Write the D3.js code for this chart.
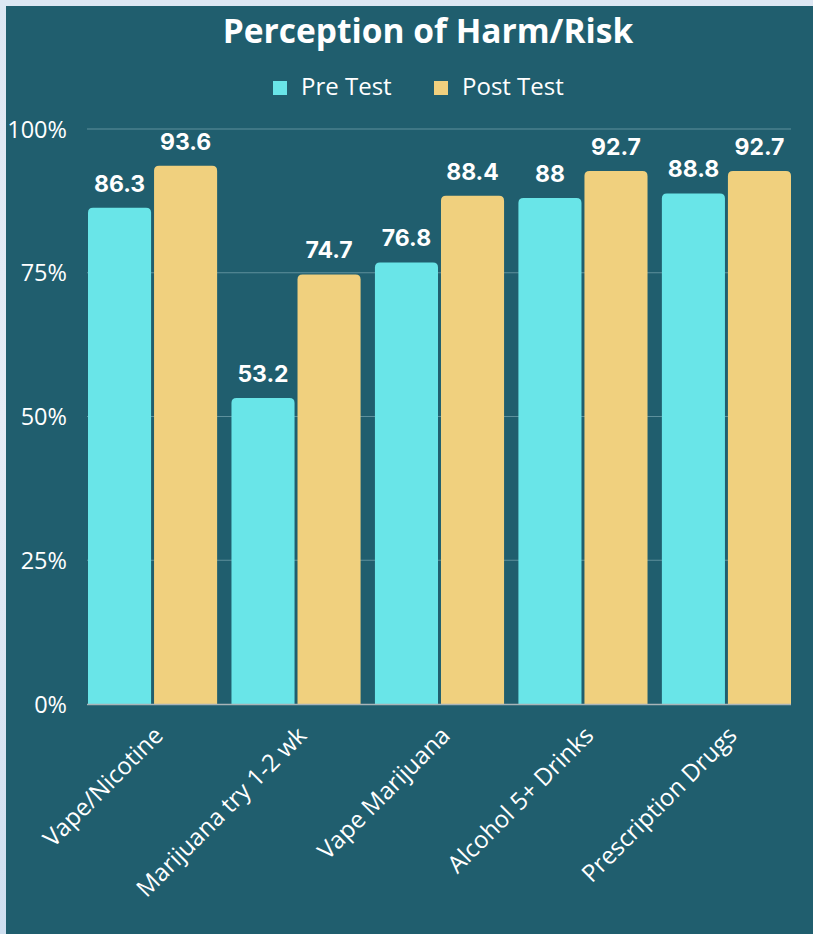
<!DOCTYPE html>
<html>
<head>
<meta charset="utf-8">
<script src="https://cdn.jsdelivr.net/npm/d3@7"></script>
<style>
  html, body { margin: 0; padding: 0; width: 813px; height: 934px; overflow: hidden; }
  svg { display: block; }
</style>
</head>
<body>
<svg id="chart" width="813" height="934"></svg>
<script>
const categories = ["Vape/Nicotine", "Marijuana try 1-2 wk", "Vape Marijuana", "Alcohol 5+ Drinks", "Prescription Drugs"];
const seriesNames = ["Pre Test", "Post Test"];
const preTest = [86.3, 53.2, 76.8, 88, 88.8];
const postTest = [93.6, 74.7, 88.4, 92.7, 92.7];
const yTicks = [0, 25, 50, 75, 100];
const titleText = "Perception of Harm/Risk";

const colors = { "Pre Test": "#69e5e8", "Post Test": "#f0d07e" };
const W = 813, H = 934;
const svg = d3.select("#chart");

// page background gradient
const defs = svg.append("defs");
const grad = defs.append("linearGradient").attr("id", "bg").attr("x1", 0).attr("y1", 0).attr("x2", 0).attr("y2", 1);
grad.append("stop").attr("offset", "0%").attr("stop-color", "#dde7f3");
grad.append("stop").attr("offset", "45%").attr("stop-color", "#e6edf6");
grad.append("stop").attr("offset", "100%").attr("stop-color", "#cfdff0");
svg.append("rect").attr("width", W).attr("height", H).attr("fill", "url(#bg)");
svg.append("rect").attr("x", 6).attr("y", 6).attr("width", W - 6).attr("height", H - 6).attr("fill", "#205e6e");

const margin = { left: 88, right: 22 };
const x0 = d3.scaleBand().domain(categories).range([margin.left, W - margin.right]).paddingInner(0.1).paddingOuter(0);
const x1 = d3.scaleBand().domain(seriesNames).range([0, x0.bandwidth()]).paddingInner(0.045);
const y = d3.scaleLinear().domain([0, 100]).range([704, 129]);

// gridlines
svg.append("g").selectAll("line").data(yTicks.filter(d => d > 0)).join("line")
  .attr("x1", 87).attr("x2", W - margin.right)
  .attr("y1", d => y(d)).attr("y2", d => y(d))
  .attr("stroke", "#5e909c").attr("stroke-width", 1);

// y axis labels
const yAxis = d3.axisLeft(y).tickValues(yTicks).tickFormat(d => d + "%").tickSize(0).tickPadding(0);
const yg = svg.append("g").attr("transform", "translate(67,0)").call(yAxis);
yg.select(".domain").remove();
yg.selectAll("text").attr("fill", "#ffffff").attr("font-family", "'Open Sans', sans-serif").attr("font-size", 23.5).attr("dy", "0.35em");

// bars
const data = categories.map((c, i) => ({ cat: c, values: [
  { key: "Pre Test", value: preTest[i] },
  { key: "Post Test", value: postTest[i] }
]}));

function topRoundedRect(x, yTop, w, h, r) {
  r = Math.min(r, h, w / 2);
  return `M${x},${yTop + h}V${yTop + r}Q${x},${yTop} ${x + r},${yTop}H${x + w - r}Q${x + w},${yTop} ${x + w},${yTop + r}V${yTop + h}Z`;
}

const groups = svg.append("g").selectAll("g").data(data).join("g")
  .attr("transform", d => `translate(${x0(d.cat)},0)`);

groups.selectAll("path").data(d => d.values).join("path")
  .attr("d", d => topRoundedRect(x1(d.key), y(d.value), x1.bandwidth(), y(0) - y(d.value), 5))
  .attr("fill", d => colors[d.key]);

groups.selectAll("text").data(d => d.values).join("text")
  .attr("x", d => x1(d.key) + x1.bandwidth() / 2)
  .attr("y", d => y(d.value) - 16)
  .attr("text-anchor", "middle")
  .attr("fill", "#ffffff")
  .attr("font-family", "Inter, sans-serif")
  .attr("font-weight", 700)
  .attr("font-size", 23)
  .text(d => d.value);

// baseline
svg.append("line").attr("x1", 87).attr("x2", W - margin.right).attr("y1", 704.5).attr("y2", 704.5)
  .attr("stroke", "#a9b4b8").attr("stroke-width", 1.5);

// x axis labels
const xAxis = d3.axisBottom(x0).tickSize(0).tickPadding(0);
const xg = svg.append("g").attr("transform", "translate(0,704)").call(xAxis);
xg.select(".domain").remove();
xg.selectAll("text")
  .attr("fill", "#ffffff")
  .attr("font-family", "'Open Sans', sans-serif")
  .attr("font-size", 24)
  .attr("text-anchor", "end")
  .attr("dy", 0)
  .attr("transform", "translate(12,33) rotate(-45)");

// title
svg.append("text").attr("x", 428).attr("y", 43).attr("text-anchor", "middle")
  .attr("fill", "#ffffff").attr("font-family", "'Open Sans', sans-serif").attr("font-weight", 700).attr("font-size", 33.5)
  .text(titleText);

// legend
const legendX = [273, 434];
const lg = svg.append("g").selectAll("g").data(seriesNames).join("g")
  .attr("transform", (d, i) => `translate(${legendX[i]},81)`);
lg.append("rect").attr("width", 14).attr("height", 14).attr("fill", d => colors[d]);
lg.append("text").attr("x", 28).attr("y", 14).attr("fill", "#ffffff")
  .attr("font-family", "'Open Sans', sans-serif").attr("font-size", 24).text(d => d);
</script>
</body>
</html>
